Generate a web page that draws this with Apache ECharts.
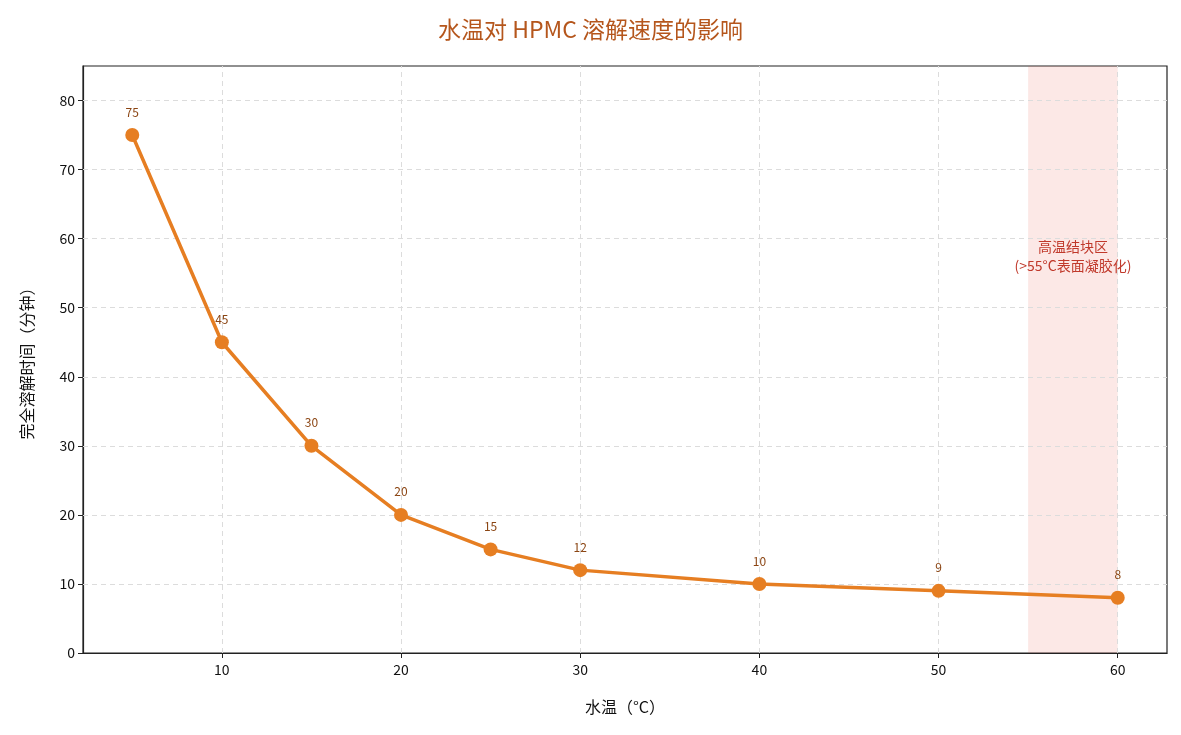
<!DOCTYPE html>
<html>
<head>
<meta charset="utf-8">
<script src="https://cdn.jsdelivr.net/npm/echarts@6/dist/echarts.min.js"></script>
<style>
  html, body { margin: 0; padding: 0; background: #fff; }
  #main { width: 1181px; height: 735px; }
</style>
</head>
<body>
<div id="main"></div>
<script>
// 水温 (°C) 与完全溶解时间 (分钟)
var temps = [5, 10, 15, 20, 25, 30, 40, 50, 60];
var minutes = [75, 45, 30, 20, 15, 12, 10, 9, 8];
var xTicks = [10, 20, 30, 40, 50, 60];
var yTicks = [0, 10, 20, 30, 40, 50, 60, 70, 80];
var hotZone = [55, 60];
var hotLabel = '高温结块区\n(>55°C表面凝胶化)';

var font = '"Noto Sans CJK SC", "Liberation Sans Narrow", sans-serif';

var points = temps.map(function (t, i) { return [t, minutes[i]]; });

var chart = echarts.init(document.getElementById('main'));

var option = {
  backgroundColor: '#fff',
  title: {
    text: '水温对 HPMC 溶解速度的影响',
    left: 'center',
    top: 13,
    textStyle: { color: '#B5561C', fontSize: 23, fontWeight: 'normal', fontFamily: font }
  },
  grid: {
    left: 83, right: 14, top: 66, bottom: 82,
    show: true, borderColor: '#222', borderWidth: 1.2
  },
  xAxis: {
    type: 'value',
    min: 2.25, max: 62.75,
    name: '水温（°C）',
    nameLocation: 'middle',
    nameGap: 46,
    nameTextStyle: { color: '#111', fontSize: 16, fontFamily: font },
    axisLine: { show: true, onZero: false, lineStyle: { color: '#222', width: 1.2 } },
    axisTick: { show: true, length: 5, lineStyle: { color: '#222' }, customValues: xTicks },
    axisLabel: { color: '#111', fontSize: 14, fontFamily: font, margin: 10, customValues: xTicks },
    splitLine: { show: false }
  },
  yAxis: {
    type: 'value',
    min: 0, max: 85,
    name: '完全溶解时间（分钟）',
    nameLocation: 'middle',
    nameGap: 48,
    nameTextStyle: { color: '#111', fontSize: 16, fontFamily: font },
    axisLine: { show: true, lineStyle: { color: '#222', width: 1.2 } },
    axisTick: { show: true, length: 5, lineStyle: { color: '#222' }, customValues: yTicks },
    axisLabel: { color: '#111', fontSize: 14, fontFamily: font, margin: 8, customValues: yTicks },
    splitLine: { show: false }
  },
  series: [
    {
      // 网格虚线（只画在刻度位置）
      type: 'line',
      data: [],
      silent: true,
      markLine: {
        silent: true,
        symbol: 'none',
        label: { show: false },
        lineStyle: { color: '#dcdcdc', type: [5, 4], width: 1 },
        data: xTicks.map(function (t) { return { xAxis: t }; })
          .concat(yTicks.slice(1).map(function (t) { return { yAxis: t }; }))
      }
    },
    {
      type: 'line',
      data: points,
      color: '#E67E22',
      lineStyle: { width: 3.5, color: '#E67E22' },
      symbol: 'circle',
      symbolSize: 14,
      itemStyle: { color: '#E67E22' },
      label: {
        show: true,
        position: 'top',
        distance: 10,
        color: '#8B4513',
        fontSize: 12,
        fontFamily: font,
        formatter: function (p) { return p.value[1]; }
      },
      markArea: {
        silent: true,
        itemStyle: { color: 'rgba(231, 76, 60, 0.13)' },
        data: [[{ xAxis: hotZone[0] }, { xAxis: hotZone[1] }]]
      },
      markPoint: {
        silent: true,
        symbol: 'circle',
        symbolSize: 0,
        label: {
          show: true,
          position: 'inside',
          color: '#C0392B',
          fontSize: 14,
          lineHeight: 19,
          align: 'center',
          fontFamily: font,
          formatter: hotLabel
        },
        data: [{ coord: [(hotZone[0] + hotZone[1]) / 2, 57.5] }]
      },
      z: 5
    }
  ]
};

chart.setOption(option);
</script>
</body>
</html>
